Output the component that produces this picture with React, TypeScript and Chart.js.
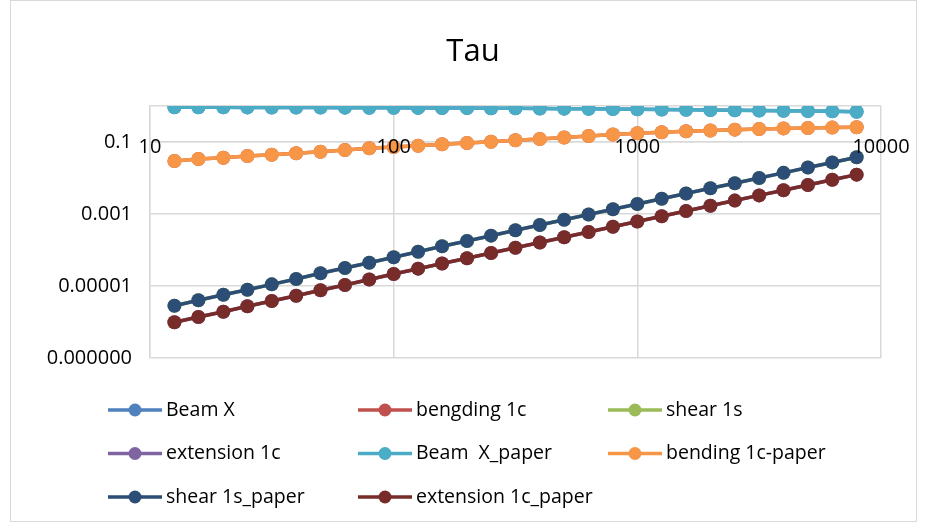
import React, { useEffect, useRef } from 'react';
import { Chart, registerables } from 'chart.js';

Chart.register(...registerables);

const FONT = '"Open Sans", sans-serif';

const xValues = [12.6, 15.8, 20, 25.1, 31.6, 39.8, 50.1, 63.1, 79.4, 100, 126, 158, 200, 251, 316, 398, 501, 631, 794, 1000, 1259, 1585, 1995, 2512, 3162, 3981, 5012, 6310, 7943];

const beamXPaper = [0.92, 0.92, 0.92, 0.915, 0.91, 0.91, 0.905, 0.9, 0.895, 0.89, 0.885, 0.88, 0.875, 0.87, 0.86, 0.855, 0.845, 0.835, 0.825, 0.81, 0.8, 0.79, 0.775, 0.76, 0.75, 0.74, 0.725, 0.71, 0.695];
const bending1cPaper = [0.0297, 0.0337, 0.0366, 0.0408, 0.0444, 0.0486, 0.0538, 0.06, 0.0668, 0.0726, 0.0789, 0.0863, 0.0938, 0.1019, 0.1115, 0.121, 0.133, 0.147, 0.162, 0.175, 0.186, 0.198, 0.209, 0.22, 0.23, 0.239, 0.245, 0.251, 0.256];
const shear1sPaper = [2.84e-6, 4.01e-6, 5.73e-6, 7.89e-6, 1.11e-5, 1.56e-5, 2.25e-5, 3.16e-5, 4.44e-5, 6.27e-5, 8.97e-5, 1.27e-4, 1.78e-4, 2.5e-4, 3.53e-4, 4.95e-4, 6.95e-4, 9.69e-4, 1.36e-3, 1.9e-3, 2.64e-3, 3.71e-3, 5.17e-3, 7.18e-3, 1.0e-2, 1.39e-2, 1.95e-2, 2.71e-2, 3.76e-2];
const extension1cPaper = [9.81e-7, 1.38e-6, 1.93e-6, 2.73e-6, 3.83e-6, 5.38e-6, 7.6e-6, 1.07e-5, 1.52e-5, 2.15e-5, 3.03e-5, 4.22e-5, 5.88e-5, 8.26e-5, 1.16e-4, 1.61e-4, 2.27e-4, 3.16e-4, 4.41e-4, 6.19e-4, 8.63e-4, 1.21e-3, 1.69e-3, 2.36e-3, 3.29e-3, 4.58e-3, 6.4e-3, 8.91e-3, 1.24e-2];

// The computed series lie underneath the paper series (same values).
const beamX = beamXPaper;
const bengding1c = bending1cPaper;
const shear1s = shear1sPaper;
const extension1c = extension1cPaper;

const seriesNames = ['Beam X', 'bengding 1c', 'shear 1s', 'extension 1c', 'Beam  X_paper', 'bending 1c-paper', 'shear 1s_paper', 'extension 1c_paper'];
const seriesValues = [beamX, bengding1c, shear1s, extension1c, beamXPaper, bending1cPaper, shear1sPaper, extension1cPaper];
const seriesColors = ['#4F81BD', '#C0504D', '#9BBB59', '#8064A2', '#4BACC6', '#F79646', '#2C4D75', '#772C2A'];

const xTickValues = [10, 100, 1000, 10000];
const xTickLabels = ['10', '100', '1000', '10000'];
const yTickValues = [1e-7, 1e-5, 1e-3, 1e-1, 1];
const yTickLabels = ['0.000000', '0.00001', '0.001', '0.1', ''];

const GRID = '#d9d9d9';

const chromePlugin = {
  id: 'chrome',
  beforeDraw(chart: any) {
    const c = chart.ctx;
    c.save();
    c.fillStyle = '#ffffff';
    c.fillRect(0, 0, chart.width, chart.height);
    c.strokeStyle = GRID;
    c.lineWidth = 1;
    c.strokeRect(10.5, 0.5, 906, 521);
    c.restore();
  },
  afterDraw(chart: any) {
    const c = chart.ctx;
    c.save();
    c.fillStyle = '#000000';
    c.font = `31px ${FONT}`;
    c.textAlign = 'center';
    c.textBaseline = 'middle';
    c.fillText('Tau', 473, 52);

    c.font = `19.5px ${FONT}`;
    c.textAlign = 'left';
    seriesNames.forEach((name, i) => {
      const col = i % 3;
      const row = Math.floor(i / 3);
      const x0 = 108 + col * 250;
      const y = 410 + row * 43.5;
      c.strokeStyle = seriesColors[i];
      c.lineWidth = 3.5;
      c.beginPath();
      c.moveTo(x0, y);
      c.lineTo(x0 + 54, y);
      c.stroke();
      c.fillStyle = seriesColors[i];
      c.beginPath();
      c.arc(x0 + 27, y, 6.5, 0, Math.PI * 2);
      c.fill();
      c.fillStyle = '#000000';
      c.fillText(name, x0 + 58, y);
    });
    c.restore();
  },
};

export default function App() {
  const ref = useRef<HTMLCanvasElement>(null);
  useEffect(() => {
    const canvas = ref.current;
    if (!canvas) return;
    const datasets = seriesNames.map((name, i) => ({
      label: name,
      data: xValues.map((x, k) => ({ x, y: seriesValues[i][k] })),
      borderColor: seriesColors[i],
      backgroundColor: seriesColors[i],
      pointBackgroundColor: seriesColors[i],
      pointBorderColor: seriesColors[i],
      pointRadius: 7,
      pointBorderWidth: 0,
      borderWidth: 3.5,
      tension: 0,
      order: i >= 4 ? 0 : 1,
    }));
    const chart = new Chart(canvas, {
      type: 'line',
      data: { datasets },
      options: {
        animation: false,
        responsive: false,
        maintainAspectRatio: false,
        layout: { padding: { top: 106, right: 46, bottom: 166, left: 0 } },
        plugins: {
          legend: { display: false },
          title: { display: false },
          tooltip: { enabled: false },
        },
        scales: {
          x: {
            type: 'logarithmic',
            min: 10,
            max: 10000,
            position: { y: 0.1 } as any,
            afterBuildTicks: (s: any) => {
              s.ticks = xTickValues.map((v) => ({ value: v }));
            },
            afterFit: (s: any) => {
              s.height = 0;
            },
            ticks: {
              autoSkip: false,
              maxRotation: 0,
              padding: -7,
              z: 1,
              color: '#000000',
              font: { family: FONT, size: 20 },
              callback: (_v: any, i: number) => xTickLabels[i],
            },
            grid: { color: GRID, lineWidth: 1.5, drawTicks: false },
            border: { color: GRID, width: 1.5 },
          },
          y: {
            type: 'logarithmic',
            min: 1e-7,
            max: 1,
            afterBuildTicks: (s: any) => {
              s.ticks = yTickValues.map((v) => ({ value: v }));
            },
            afterFit: (s: any) => {
              s.width = 150;
            },
            ticks: {
              autoSkip: false,
              padding: 18,
              color: '#000000',
              font: { family: FONT, size: 20 },
              callback: (_v: any, i: number) => yTickLabels[i],
            },
            grid: { color: GRID, lineWidth: 1.5, drawTicks: false },
            border: { color: GRID, width: 1.5 },
          },
        },
      },
      plugins: [chromePlugin],
    });
    return () => chart.destroy();
  }, []);
  return (
    <div style={{ position: 'absolute', left: 0, top: 0, width: 927, height: 524 }}>
      <canvas ref={ref} width={927} height={524} />
    </div>
  );
}
